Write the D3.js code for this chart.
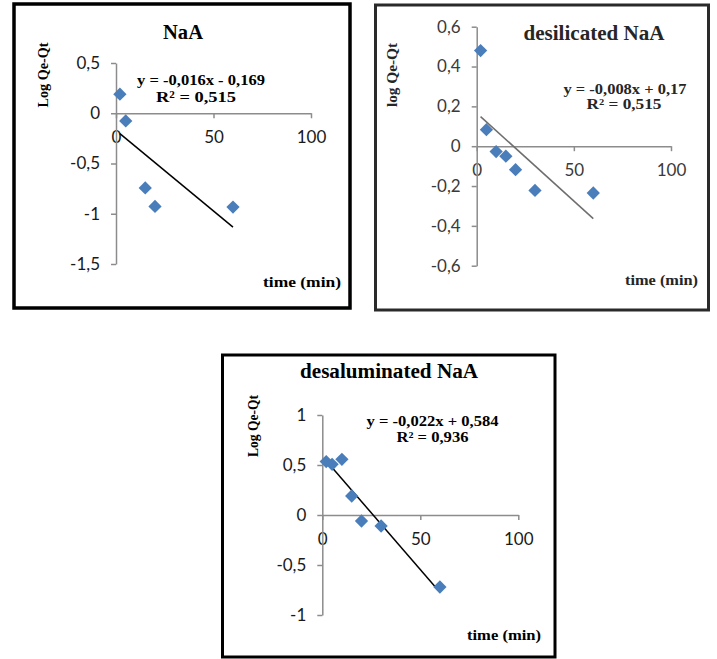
<!DOCTYPE html>
<html>
<head>
<meta charset="utf-8">
<script src="https://cdn.jsdelivr.net/npm/d3@7"></script>
<style>
  body { margin: 0; background: #fff; }
  svg { display: block; }
  .tick text { font-family: Lato, "Liberation Sans", sans-serif; }
</style>
</head>
<body>
<div id="chart"></div>
<script>
// data (time in min, log(Qe-Qt))
const naaTime = [2, 5, 15, 20, 60];
const naaLog = [0.19, -0.077, -0.743, -0.927, -0.933];

const desilTime = [2, 5, 10, 15, 20, 30, 60];
const desilLog = [0.48, 0.083, -0.027, -0.05, -0.118, -0.222, -0.235];

const dealTime = [2, 5, 10, 15, 20, 30, 60];
const dealLog = [0.534, 0.507, 0.557, 0.19, -0.06, -0.11, -0.72];

const xTicks = [0, 50, 100];
const naaYTicks = [-1.5, -1, -0.5, 0, 0.5];
const desilYTicks = [-0.6, -0.4, -0.2, 0, 0.2, 0.4, 0.6];
const dealYTicks = [-1, -0.5, 0, 0.5, 1];

const titles = ["NaA", "desilicated NaA", "desaluminated NaA"];
const yLabels = ["Log Qe-Qt", "log Qe-Qt", "Log Qe-Qt"];
const xLabels = ["time  (min)", "time (min)", "time (min)"];
const equations = ["y = -0,016x - 0,169", "y = -0,008x + 0,17", "y = -0,022x + 0,584"];
const rSquared = ["R² = 0,515", "R² = 0,515", "R² = 0,936"];

// comma decimal, plain hyphen minus
const locale = d3.formatLocale({ decimal: ",", thousands: ".", grouping: [3], currency: ["", ""], minus: "-" });
const fmt = locale.format("~g");

const svg = d3.select("#chart").append("svg")
    .attr("width", 717)
    .attr("height", 659);

// least squares fit, same as the excel linear trendline
function linFit(xs, ys) {
    const mx = d3.mean(xs), my = d3.mean(ys);
    const sxy = d3.sum(xs, (x, i) => (x - mx) * (ys[i] - my));
    const sxx = d3.sum(xs, x => (x - mx) * (x - mx));
    const slope = sxy / sxx;
    return { slope: slope, intercept: my - slope * mx };
}

const panels = [
    {
        box: [14, 4, 336, 304], border: "#000", bw: 3.5,
        xRange: [116, 311], yDomain: [-1.5, 0.5], yRange: [264, 63],
        times: naaTime, logs: naaLog, yTicks: naaYTicks, lineColor: "#000", textColor: "#000",
        title: [183, 32, 40], ylab: [43, 75, 65], eq: [201, 79, 128], r2: [196, 96, 80], xlab: [302, 282, 78]
    },
    {
        box: [375.5, 5, 333, 305], border: "#2a2a2a", bw: 3,
        xRange: [476.7, 671], yDomain: [-0.6, 0.6], yRange: [265.7, 26.7],
        times: desilTime, logs: desilLog, yTicks: desilYTicks, lineColor: "#6e6e6e", textColor: "#262626",
        title: [594, 33, 141], ylab: [391.5, 75, 64], eq: [625, 89, 123], r2: [624, 104.5, 75], xlab: [661.5, 280, 73]
    },
    {
        box: [222.5, 355, 332.5, 302], border: "#000", bw: 3,
        xRange: [322.3, 518.3], yDomain: [-1, 1], yRange: [615, 415],
        times: dealTime, logs: dealLog, yTicks: dealYTicks, lineColor: "#000", textColor: "#000",
        title: [389, 371, 178], ylab: [253, 426, 62], eq: [432.5, 421.5, 132], r2: [432.5, 437.5, 72], xlab: [504, 635, 74]
    }
];

panels.forEach((p, k) => {
    const g = svg.append("g");

    g.append("rect")
        .attr("x", p.box[0]).attr("y", p.box[1])
        .attr("width", p.box[2]).attr("height", p.box[3])
        .attr("fill", "#fff")
        .attr("stroke", p.border)
        .attr("stroke-width", p.bw);

    const x = d3.scaleLinear().domain([0, 100]).range(p.xRange);
    const y = d3.scaleLinear().domain(p.yDomain).range(p.yRange);

    // x axis sits on y = 0
    const xAxis = g.append("g")
        .attr("transform", `translate(0,${y(0)})`)
        .call(d3.axisBottom(x).tickValues(xTicks).tickFormat(fmt).tickSize(5).tickSizeOuter(0).tickPadding(13));

    const yAxis = g.append("g")
        .attr("transform", `translate(${x(0)},0)`)
        .call(d3.axisLeft(y).tickValues(p.yTicks).tickFormat(fmt).tickSize(5).tickSizeOuter(0).tickPadding(11));

    [xAxis, yAxis].forEach(a => {
        a.select(".domain").attr("stroke", "#8c8c8c").attr("stroke-width", 1.5);
        a.selectAll(".tick line").attr("stroke", "#8c8c8c").attr("stroke-width", 1.5);
        a.selectAll(".tick text")
            .attr("font-size", 17)
            .attr("fill", k === 1 ? "#3a3a3a" : "#1a1a1a");
    });

    // trendline over the data range
    const fit = linFit(p.times, p.logs);
    const ends = d3.extent(p.times);
    g.append("line")
        .attr("x1", x(ends[0])).attr("y1", y(fit.slope * ends[0] + fit.intercept))
        .attr("x2", x(ends[1])).attr("y2", y(fit.slope * ends[1] + fit.intercept))
        .attr("stroke", p.lineColor)
        .attr("stroke-width", 1.5);

    // excel style diamonds = square turned 45deg
    g.selectAll("path.pt")
        .data(p.times.map((t, i) => [t, p.logs[i]]))
        .join("path")
        .attr("class", "pt")
        .attr("d", d3.symbol(d3.symbolSquare, 88))
        .attr("transform", d => `translate(${x(d[0])},${y(d[1])}) rotate(45)`)
        .attr("fill", "#4a7ebb");

    const label = (pos, txt, size, rotate) => {
        const t = g.append("text")
            .attr("text-anchor", "middle")
            .attr("dominant-baseline", "central")
            .attr("font-family", "'Liberation Serif', 'Times New Roman', serif")
            .attr("font-weight", "bold")
            .attr("font-size", size)
            .attr("fill", p.textColor)
            .attr("textLength", pos[2])
            .attr("lengthAdjust", "spacingAndGlyphs")
            .text(txt);
        if (rotate) t.attr("transform", `translate(${pos[0]},${pos[1]}) rotate(-90)`);
        else t.attr("x", pos[0]).attr("y", pos[1]);
    };

    const eqSize = k === 0 ? 15.5 : 14;
    label(p.title, titles[k], 20);
    label(p.ylab, yLabels[k], 15, true);
    label(p.eq, equations[k], eqSize);
    label(p.r2, rSquared[k], eqSize);
    label(p.xlab, xLabels[k], 14);
});
</script>
</body>
</html>
